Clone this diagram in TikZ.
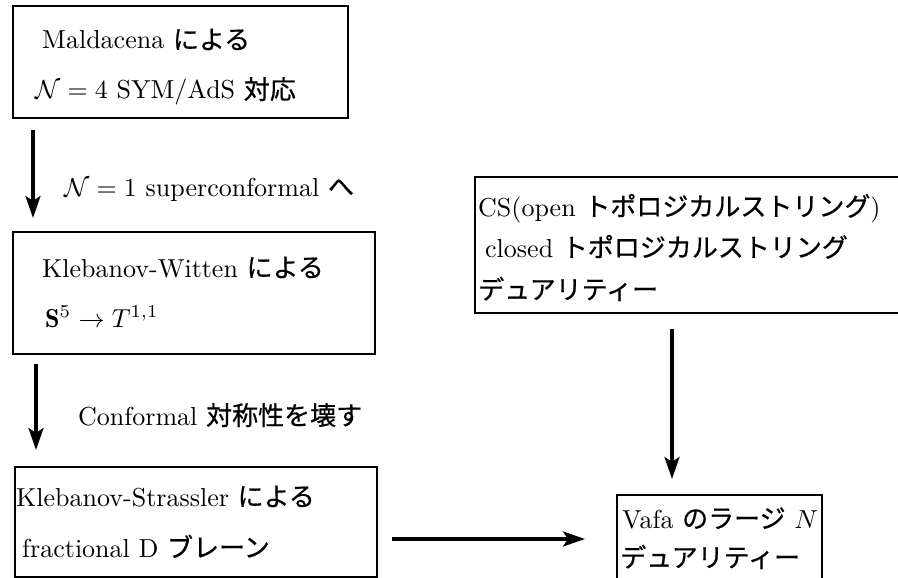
\documentclass[tikz,border=0pt]{standalone}
\usepackage{fontspec}
\usepackage{graphicx}
\newfontfamily\jp[UprightFeatures={FakeBold=0.6}]{Noto Sans CJK JP}
\usetikzlibrary{arrows.meta}
\newcommand{\bigt}[1]{\scalebox{2.6}{#1}}
\begin{document}
\begin{tikzpicture}[x=1pt,y=-1pt,
  box/.style={draw, line width=1.8pt, inner sep=0pt, anchor=north west},
  txt/.style={anchor=base west, inner sep=0pt, font=\fontsize{10}{12}\selectfont},
  arr/.style={line width=3.4pt, -{Stealth[length=22pt,width=15pt,inset=5pt]}}]
\useasboundingbox (0,0) rectangle (898,578);
\clip (0,0) rectangle (898,578);
% boxes
\node[box, minimum width=335pt, minimum height=112pt] (b1) at (12,5) {};
\node[box, minimum width=362pt, minimum height=122pt] (b2) at (12,231) {};
\node[box, minimum width=362pt, minimum height=110pt] (b3) at (14,466) {};
\node[box, minimum width=440pt, minimum height=136pt] (b4) at (474,176) {};
\node[box, minimum width=205pt, minimum height=100pt] (b5) at (616,494) {};
% texts
\node[txt] (t1a) at (42,49) {\bigt{Maldacena {\jp による}}};
\node[txt] (t1b) at (35,99) {\bigt{$\mathcal{N}=4$ SYM/AdS {\jp 対応}}};
\node[txt] (l1) at (64,196) {\bigt{$\mathcal{N}=1$ superconformal {\jp へ}}};
\node[txt] (t2a) at (42,277) {\bigt{Klebanov-Witten {\jp による}}};
\node[txt] (t2b) at (45,327) {\bigt{$\mathbf{S}^5\to T^{1,1}$}};
\node[txt] (l2) at (78,425) {\bigt{Conformal {\jp 対称性を壊す}}};
\node[txt] (t3a) at (16,506) {\bigt{Klebanov-Strassler {\jp による}}};
\node[txt] (t3b) at (22,557) {\bigt{fractional D {\jp ブレーン}}};
\node[txt] (t4a) at (478,216) {\bigt{CS(open {\jp トポロジカルストリング})}};
\node[txt] (t4b) at (485,257) {\bigt{closed {\jp トポロジカルストリング}}};
\node[txt] (t4c) at (478,299) {\bigt{{\jp デュアリティー}}};
\node[txt] (t5a) at (622,528) {\bigt{Vafa {\jp のラージ} $N$}};
\node[txt] (t5b) at (620,567) {\bigt{{\jp デュアリティー}}};
% arrows
\draw[arr] ([xshift=21pt,yshift=-11pt]b1.south west) -- ([xshift=21pt,yshift=13pt]b2.north west);
\draw[arr] ([xshift=24pt,yshift=-9pt]b2.south west) -- ([xshift=22pt,yshift=16pt]b3.north west);
\draw[arr] ([xshift=14pt,yshift=-73pt]b3.north east) -- ([xshift=-31pt,yshift=-45pt]b5.north west);
\draw[arr] ([xshift=198pt,yshift=-15pt]b4.south west) -- ([xshift=56pt,yshift=15pt]b5.north west);
\end{tikzpicture}
\end{document}
